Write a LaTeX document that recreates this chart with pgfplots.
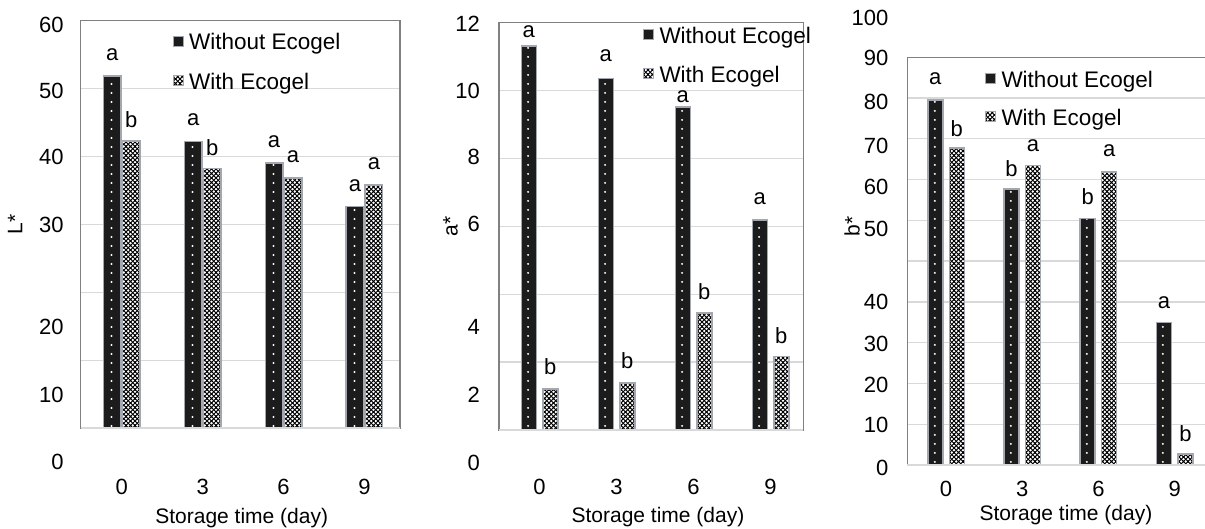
\documentclass[border=0pt]{standalone}
\usepackage{fontspec}
\setmainfont{Liberation Sans}
\usepackage{pgfplots}
\pgfplotsset{compat=1.18}
\usetikzlibrary{patterns.meta}

\newcommand\f{\fontsize{21bp}{25bp}\selectfont}
\newcommand\ft{\fontsize{22bp}{26bp}\selectfont}
\newcommand\fl{\fontsize{22.5bp}{27bp}\selectfont}
\definecolor{gridc}{HTML}{D9D9D9}
\definecolor{framec}{HTML}{808080}
\definecolor{barline}{HTML}{A3A8B0}
\definecolor{barfill}{HTML}{1C1C1C}

% one dot column per bar: tile width = category spacing of each panel
\tikzdeclarepattern{
  name=dotsA, type=uncolored,
  bounding box={(0bp,0bp) and (80.855bp,9bp)},
  tile size={(80.855bp,9bp)},
  code={\fill (31.5bp,4.5bp) circle (1.15bp);}
}
\tikzdeclarepattern{
  name=dotsB, type=uncolored,
  bounding box={(0bp,0bp) and (77bp,9bp)},
  tile size={(77bp,9bp)},
  code={\fill (66.75bp,4.5bp) circle (1.15bp);}
}
\tikzdeclarepattern{
  name=dotsC, type=uncolored,
  bounding box={(0bp,0bp) and (76.19bp,9bp)},
  tile size={(76.19bp,9bp)},
  code={\fill (21.05bp,4.5bp) circle (1.15bp);}
}
\tikzdeclarepattern{
  name=xhatch, type=uncolored,
  bounding box={(-1bp,-1bp) and (5.5bp,5.5bp)},
  tile size={(4.5bp,4.5bp)},
  code={\draw[line width=0.75bp] (-1bp,-1bp)--(5.5bp,5.5bp) (-1bp,5.5bp)--(5.5bp,-1bp);}
}

\pgfplotsset{
  panel/.style={
    scale only axis, anchor=south west, clip=false,
    xtick={0,1,2,3}, xticklabels={0,3,6,9},
    major tick length=0pt,
    ymajorgrids,
    major grid style={draw=gridc, line width=1.3bp},
    axis line style={draw=framec, line width=1.3bp},
    yticklabels={},
    xticklabel style={anchor=center, inner sep=0pt, font=\ft},
    every axis x label/.style={at={(rel axis cs:0.5,0)}, anchor=base, inner sep=0pt, font=\f},
    every axis y label/.style={at={(rel axis cs:0,0.5)}, anchor=center, rotate=90, inner sep=0pt, font=\f},
    xlabel={Storage time (day)},
    legend cell align=left,
    legend image code/.code={\draw[##1, line width=1bp] (0bp,-3.5bp) rectangle (10bp,6.5bp);},
    legend style={draw=none, fill=none, inner sep=0pt, outer sep=0pt, font=\fl,
      anchor=north west, at={(rel axis cs:0,1)},
      /tikz/every odd column/.append style={column sep=3.5bp}},
  },
  wi/.style={ybar, fill=white, draw=barline, line width=1.5bp,
    postaction={pattern=xhatch, pattern color=black}},
}
\tikzset{
  let/.style={anchor=center, inner sep=0pt, font=\ft},
  yl/.style={anchor=east, inner sep=0pt, font=\ft},
}

\begin{document}
\begin{tikzpicture}[font=\f]
% ---------------- Panel 1: L* ----------------
\begin{axis}[panel, at={(80.7bp,100.7bp)}, width=319.3bp, height=407.8bp,
  xmin=-0.509, xmax=3.44, ymin=0, ymax=60, ytick={0,10,...,60},
  xticklabel style={yshift=-58.2bp},
  xlabel style={yshift=-95.3bp, xshift=1.4bp},
  ylabel={L*}, ylabel style={yshift=65.5bp},
  legend style={xshift=92bp, yshift=-11.2bp, row sep=17.3bp}]
\addplot[ybar, fill=barfill, draw=barline, line width=1.5bp,
  postaction={pattern=dotsA, pattern color=white},
  bar width=17.5bp, bar shift=-9.5bp] coordinates {(0,51.8) (1,42.2) (2,39.0) (3,32.6)};
\addlegendentry{Without Ecogel}
\addplot[wi, bar width=17.5bp, bar shift=9.5bp] coordinates {(0,42.3) (1,38.2) (2,36.8) (3,35.8)};
\addlegendentry{With Ecogel}
\draw[gridc, line width=2bp] (rel axis cs:0,0) -- (rel axis cs:1,0);
\node[yl, xshift=-17bp] at (axis cs:-0.509,59.4) {60};
\node[yl, xshift=-17bp] at (axis cs:-0.509,49.6) {50};
\node[yl, xshift=-17bp] at (axis cs:-0.509,39.9) {40};
\node[yl, xshift=-17bp] at (axis cs:-0.509,29.9) {30};
\node[yl, xshift=-17bp] at (axis cs:-0.509,14.9) {20};
\node[yl, xshift=-17bp] at (axis cs:-0.509,4.9) {10};
\node[yl, xshift=-17bp] at (axis cs:-0.509,-5.0) {0};
\node[let, xshift=-9.5bp, yshift=21.5bp] at (axis cs:0,51.8) {a};
\node[let, xshift=9.5bp, yshift=21.5bp] at (axis cs:0,42.3) {b};
\node[let, xshift=-9.5bp, yshift=21.5bp] at (axis cs:1,42.2) {a};
\node[let, xshift=9.5bp, yshift=21.5bp] at (axis cs:1,38.2) {b};
\node[let, xshift=-9.5bp, yshift=21.5bp] at (axis cs:2,39.0) {a};
\node[let, xshift=9.5bp, yshift=21.5bp] at (axis cs:2,36.8) {a};
\node[let, xshift=-9.5bp, yshift=21.5bp] at (axis cs:3,32.6) {a};
\node[let, xshift=9.5bp, yshift=21.5bp] at (axis cs:3,35.8) {a};
\end{axis}
% ---------------- Panel 2: a* ----------------
\begin{axis}[panel, at={(499bp,99bp)}, width=304.3bp, height=407.3bp,
  xmin=-0.526, xmax=3.426, ymin=0, ymax=12, ytick={0,2,...,12},
  xticklabel style={yshift=-57.3bp},
  xlabel style={yshift=-92.6bp, xshift=6.8bp},
  ylabel={a*}, ylabel style={yshift=48.4bp},
  legend style={xshift=144bp, yshift=-2.6bp, row sep=17.3bp}]
\addplot[ybar, fill=barfill, draw=barline, line width=1.5bp,
  postaction={pattern=dotsB, pattern color=white},
  bar width=15bp, bar shift=-10.75bp] coordinates {(0,11.31) (1,10.36) (2,9.51) (3,6.18)};
\addlegendentry{Without Ecogel}
\addplot[wi, bar width=15bp, bar shift=10.75bp] coordinates {(0,1.21) (1,1.39) (2,3.45) (3,2.16)};
\addlegendentry{With Ecogel}
\draw[gridc, line width=2bp] (rel axis cs:0,0) -- (rel axis cs:1,0);
\node[yl, xshift=-19bp] at (axis cs:-0.526,11.98) {12};
\node[yl, xshift=-19bp] at (axis cs:-0.526,10.0) {10};
\node[yl, xshift=-19bp] at (axis cs:-0.526,8.05) {8};
\node[yl, xshift=-19bp] at (axis cs:-0.526,6.06) {6};
\node[yl, xshift=-19bp] at (axis cs:-0.526,3.05) {4};
\node[yl, xshift=-19bp] at (axis cs:-0.526,1.03) {2};
\node[yl, xshift=-19bp] at (axis cs:-0.526,-0.96) {0};
\node[let, xshift=-10.75bp, yshift=14.2bp] at (axis cs:0,11.31) {a};
\node[let, xshift=10.75bp, yshift=22bp] at (axis cs:0,1.21) {b};
\node[let, xshift=-10.75bp, yshift=22.5bp] at (axis cs:1,10.36) {a};
\node[let, xshift=10.75bp, yshift=22.5bp] at (axis cs:1,1.39) {b};
\node[let, xshift=-10.75bp, yshift=10.5bp] at (axis cs:2,9.51) {a};
\node[let, xshift=10.75bp, yshift=21.3bp] at (axis cs:2,3.45) {b};
\node[let, xshift=-10.75bp, yshift=21.2bp] at (axis cs:3,6.18) {a};
\node[let, xshift=10.75bp, yshift=21.2bp] at (axis cs:3,2.16) {b};
\end{axis}
% ---------------- Panel 3: b* ----------------
\begin{axis}[panel, at={(907.3bp,64bp)}, width=304.7bp, height=407.7bp,
  xmin=-0.509, xmax=3.49, ymin=0, ymax=100, ytick={0,10,...,100},
  xticklabel style={yshift=-23.5bp},
  xlabel style={yshift=-55bp, xshift=6.3bp},
  ylabel={b*}, ylabel style={at={(rel axis cs:0,0.586)}, yshift=55.3bp},
  legend style={xshift=77.7bp, yshift=-11.7bp, row sep=16.7bp}]
\addplot[ybar, fill=barfill, draw=barline, line width=1.5bp,
  postaction={pattern=dotsC, pattern color=white},
  bar width=15bp, bar shift=-10.75bp] coordinates {(0,89.5) (1,67.7) (2,60.5) (3,34.9)};
\addlegendentry{Without Ecogel}
\addplot[wi, bar width=15bp, bar shift=10.75bp] coordinates {(0,77.7) (1,73.5) (2,71.9) (3,2.7)};
\addlegendentry{With Ecogel}
\draw[gridc, line width=2bp] (rel axis cs:0,0) -- (rel axis cs:1,0);
\node[yl, xshift=-18.8bp] at (axis cs:-0.509,109.6) {100};
\node[yl, xshift=-18.8bp] at (axis cs:-0.509,99.8) {90};
\node[yl, xshift=-18.8bp] at (axis cs:-0.509,89.1) {80};
\node[yl, xshift=-18.8bp] at (axis cs:-0.509,78.3) {70};
\node[yl, xshift=-18.8bp] at (axis cs:-0.509,68.3) {60};
\node[yl, xshift=-18.8bp] at (axis cs:-0.509,57.8) {50};
\node[yl, xshift=-18.8bp] at (axis cs:-0.509,40.0) {40};
\node[yl, xshift=-18.8bp] at (axis cs:-0.509,29.8) {30};
\node[yl, xshift=-18.8bp] at (axis cs:-0.509,19.7) {20};
\node[yl, xshift=-18.8bp] at (axis cs:-0.509,9.8) {10};
\node[yl, xshift=-18.8bp] at (axis cs:-0.509,-0.8) {0};
\node[let, xshift=-10.75bp, yshift=21bp] at (axis cs:0,89.5) {a};
\node[let, xshift=10.75bp, yshift=20bp] at (axis cs:0,77.7) {b};
\node[let, xshift=-10.75bp, yshift=20bp] at (axis cs:1,67.7) {b};
\node[let, xshift=10.75bp, yshift=20bp] at (axis cs:1,73.5) {a};
\node[let, xshift=-10.75bp, yshift=22bp] at (axis cs:2,60.5) {b};
\node[let, xshift=10.75bp, yshift=21bp] at (axis cs:2,71.9) {a};
\node[let, xshift=-10.75bp, yshift=20bp] at (axis cs:3,34.9) {a};
\node[let, xshift=10.75bp, yshift=20bp] at (axis cs:3,2.7) {b};
\end{axis}
\pgfresetboundingbox
\useasboundingbox (0,0) rectangle (1205bp,529bp);
\end{tikzpicture}
\end{document}
